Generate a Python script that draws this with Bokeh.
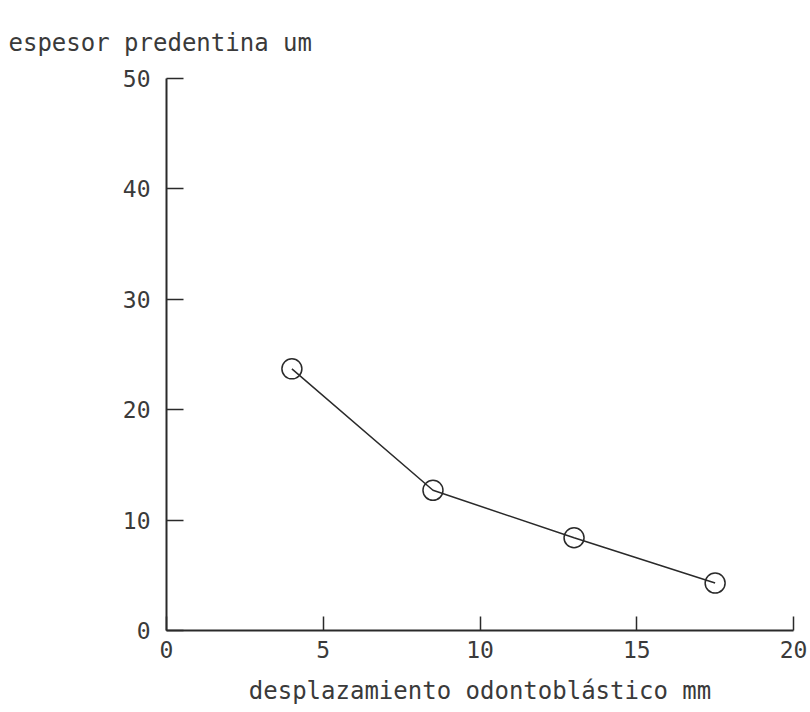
from bokeh.plotting import figure
from bokeh.models import Range1d, FixedTicker
from bokeh.embed import file_html
from bokeh.resources import INLINE

# data
desplazamiento = [4.0, 8.5, 13.0, 17.5]
espesor = [23.7, 12.7, 8.4, 4.3]
x_ticks = [0, 5, 10, 15, 20]
y_ticks = [0, 10, 20, 30, 40, 50]
x_title = "desplazamiento odontoblástico mm"
y_title = "espesor predentina um"

FONT = "DejaVu Sans Mono"
INK = "#2a2a2a"
TXT = "#3a3a3a"

p = figure(width=810, height=712, output_backend="svg", toolbar_location=None,
           x_range=Range1d(0, 20), y_range=Range1d(0, 50),
           min_border_left=166, min_border_right=17,
           min_border_top=78, min_border_bottom=82)
p.outline_line_color = None
p.xgrid.visible = False
p.ygrid.visible = False
p.background_fill_color = "white"
p.border_fill_color = "white"

# the y-axis title sits horizontally at the top-left, as in the reference
p.title.text = y_title
p.title.align = "left"
p.title.offset = -158
p.title.standoff = 43
p.title.text_font = FONT
p.title.text_font_size = "24px"
p.title.text_font_style = "normal"
p.title.text_color = TXT

for ax in (p.xaxis[0], p.yaxis[0]):
    ax.axis_line_color = INK
    ax.axis_line_width = 2
    ax.major_tick_line_color = INK
    ax.major_tick_line_width = 1.5
    ax.minor_tick_line_color = None
    ax.major_tick_out = 0
    ax.major_label_text_font = FONT
    ax.major_label_text_font_size = "23px"
    ax.major_label_text_color = TXT

p.xaxis.ticker = FixedTicker(ticks=x_ticks)
p.yaxis.ticker = FixedTicker(ticks=y_ticks)
p.xaxis.major_tick_in = 14
p.yaxis.major_tick_in = 17
p.xaxis.major_label_standoff = 10
p.yaxis.major_label_standoff = 16

p.xaxis.axis_label = x_title
p.xaxis.axis_label_text_font = FONT
p.xaxis.axis_label_text_font_size = "24px"
p.xaxis.axis_label_text_font_style = "normal"
p.xaxis.axis_label_text_color = TXT
p.xaxis.axis_label_standoff = 16

p.line(desplazamiento, espesor, line_color=INK, line_width=1.5)
p.scatter(desplazamiento, espesor, marker="circle", size=20, fill_color=None,
          line_color=INK, line_width=1.5)

open("out.html", "w").write(file_html(p, INLINE))
